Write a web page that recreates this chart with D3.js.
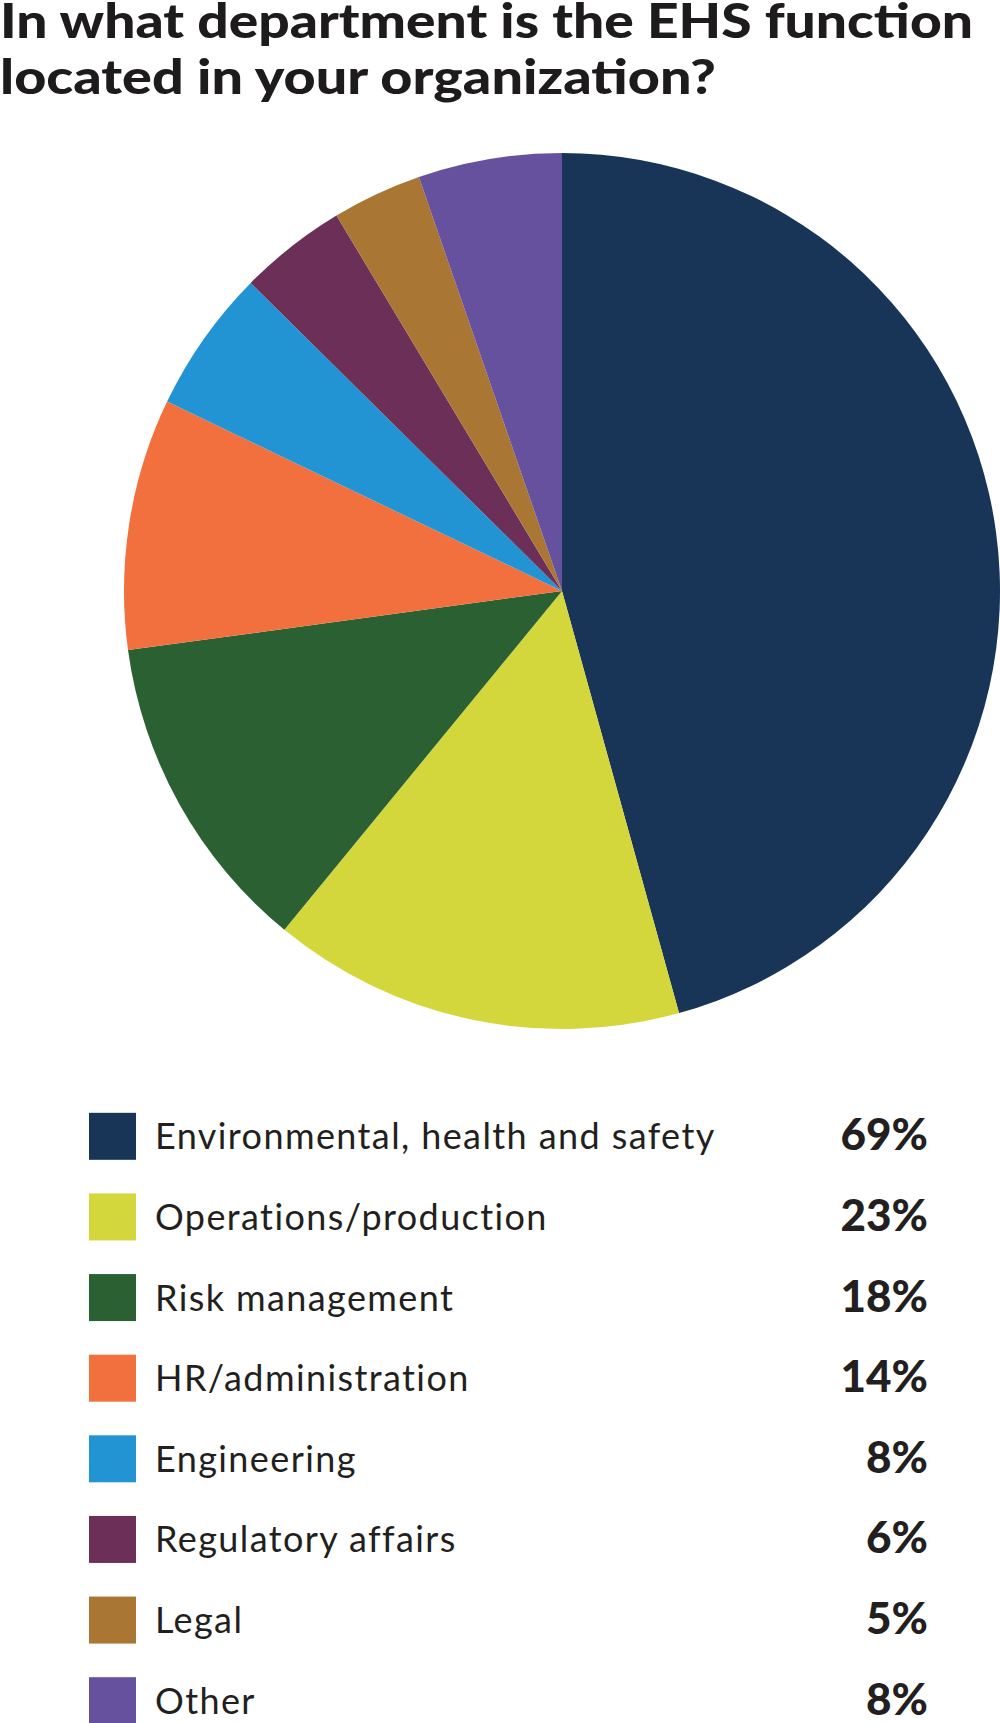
<!DOCTYPE html>
<html>
<head>
<meta charset="utf-8">
<script src="https://cdn.jsdelivr.net/npm/d3@7"></script>
<style>
  body { margin: 0; background: #fff; }
  svg { display: block; }
</style>
</head>
<body>
<div id="root"></div>
<script>
const titleLines = [
  'In what department is the EHS function',
  'located in your organization?',
];
const categories = [
  'Environmental, health and safety',
  'Operations/production',
  'Risk management',
  'HR/administration',
  'Engineering',
  'Regulatory affairs',
  'Legal',
  'Other',
];
const values = [69, 23, 18, 14, 8, 6, 5, 8];
const colors = [
  '#183558',
  '#d4d73b',
  '#2b6132',
  '#f2703d',
  '#2294d3',
  '#6c2f57',
  '#a97634',
  '#66519f',
];

function drawChart() {
  const dimensions = {
    width: 1000,
    height: 1723,
    pie: { cx: 562, cy: 591, radius: 438 },
    legend: { top: 1096, bottom: 1741, swatchX: 89, swatch: 47, textX: 155, valueX: 928 },
  };

  const data = categories.map((c, i) => ({ label: c, value: values[i], color: colors[i] }));

  const wrapper = d3
    .select('#root')
    .append('svg')
    .attr('width', dimensions.width)
    .attr('height', dimensions.height)
    .attr('viewBox', [0, 0, dimensions.width, dimensions.height]);

  // title
  const title = wrapper
    .append('g')
    .attr('font-family', 'Lato, sans-serif')
    .attr('font-weight', 900)
    .attr('font-size', 48)
    .attr('fill', '#1d1b1c');
  const titleWidths = [973, 716];
  title
    .selectAll('text')
    .data(titleLines)
    .join('text')
    .attr('x', 0)
    .attr('y', (d, i) => 38 + i * 56)
    .attr('textLength', (d, i) => titleWidths[i])
    .attr('lengthAdjust', 'spacingAndGlyphs')
    .text(d => d);

  // pie
  const pieGenerator = d3.pie().sort(null).value(d => d.value);
  const arcGenerator = d3.arc().innerRadius(0).outerRadius(dimensions.pie.radius);

  wrapper
    .append('g')
    .attr('transform', `translate(${dimensions.pie.cx}, ${dimensions.pie.cy})`)
    .selectAll('path')
    .data(pieGenerator(data))
    .join('path')
    .attr('fill', d => d.data.color)
    .attr('d', arcGenerator);

  // legend
  const yScale = d3
    .scaleBand()
    .domain(categories)
    .range([dimensions.legend.top, dimensions.legend.bottom]);

  const rows = wrapper
    .append('g')
    .selectAll('g')
    .data(data)
    .join('g')
    .attr('transform', d => `translate(0, ${yScale(d.label) + yScale.bandwidth() / 2})`);

  rows
    .append('rect')
    .attr('x', dimensions.legend.swatchX)
    .attr('y', -dimensions.legend.swatch / 2)
    .attr('width', dimensions.legend.swatch)
    .attr('height', dimensions.legend.swatch)
    .attr('fill', d => d.color);

  rows
    .append('text')
    .attr('x', dimensions.legend.textX)
    .attr('y', 13)
    .attr('font-family', 'Lato, sans-serif')
    .attr('font-size', 36)
    .attr('letter-spacing', 1.4)
    .attr('fill', '#231f20')
    .text(d => d.label);

  rows
    .append('text')
    .attr('x', dimensions.legend.valueX)
    .attr('y', 14)
    .attr('text-anchor', 'end')
    .attr('font-family', 'Lato, sans-serif')
    .attr('font-weight', 900)
    .attr('font-size', 44)
    .attr('fill', '#231f20')
    .text(d => `${d.value}%`);
}

drawChart();
</script>
</body>
</html>
